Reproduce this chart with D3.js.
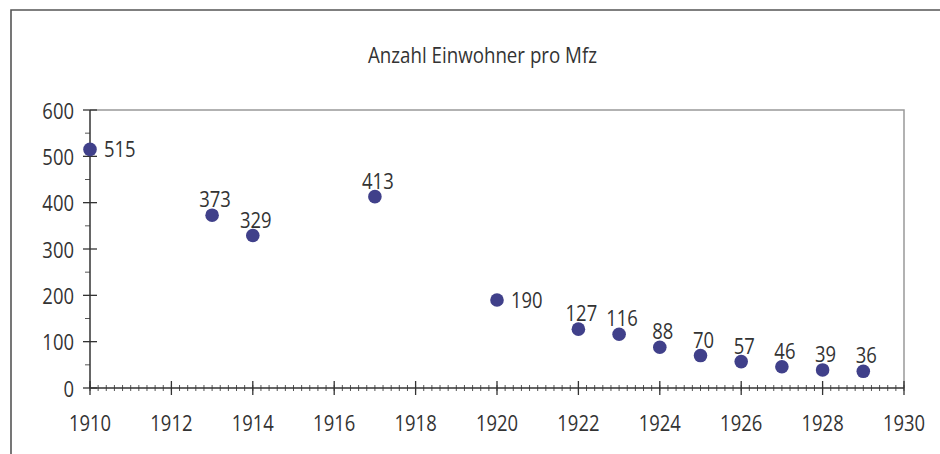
<!DOCTYPE html>
<html><head><meta charset="utf-8">
<script src="https://cdn.jsdelivr.net/npm/d3@7"></script>
<style>
html,body{margin:0;padding:0;background:#fff;}
svg{display:block;}
text{font-family:"Open Sans","DejaVu Sans",sans-serif;fill:#333;}
</style></head><body>
<svg id="c" width="940" height="454"></svg>
<script>
const title = "Anzahl Einwohner pro Mfz";
const years = [1910, 1913, 1914, 1917, 1920, 1922, 1923, 1924, 1925, 1926, 1927, 1928, 1929];
const values = [515, 373, 329, 413, 190, 127, 116, 88, 70, 57, 46, 39, 36];
const xTicks = [1910, 1912, 1914, 1916, 1918, 1920, 1922, 1924, 1926, 1928, 1930];
const yTicks = [0, 100, 200, 300, 400, 500, 600];
const rightLabels = [1910, 1920];

const svg = d3.select("#c");
const L = 90, R = 904, T = 110, B = 388;
const FS = 22.5, SX = 0.82;
const x = d3.scaleLinear().domain([1910, 1930]).range([L, R]);
const y = d3.scaleLinear().domain([0, 600]).range([B, T]);

function label(g, px, py, str, anchor) {
  g.append("text")
    .attr("transform", `translate(${px},${py}) scale(${SX},1)`)
    .attr("text-anchor", anchor)
    .attr("font-size", FS)
    .text(str);
}

// outer frame
svg.append("path").attr("d", `M11,454 V10 H940`).attr("fill","none").attr("stroke","#555").attr("stroke-width",1.6);

// plot area border top/right
svg.append("path").attr("d", `M${L},${T} H${R} V${B}`).attr("fill","none").attr("stroke","#999").attr("stroke-width",1.5);

// title
svg.append("text").attr("x", 368).attr("y", 63).attr("font-size",21)
  .attr("textLength", 229).attr("lengthAdjust","spacingAndGlyphs").text(title);

// x axis
const xMinor = d3.range(0, 101).map(i => 1910 + i*0.2);
const gx = svg.append("g");
gx.selectAll("line.mn").data(xMinor).join("line")
  .attr("x1", d=>x(d)).attr("x2", d=>x(d)).attr("y1", B-3).attr("y2", B+3)
  .attr("stroke","#555").attr("stroke-width",1);
gx.selectAll("line.mj").data(xTicks).join("line")
  .attr("x1", d=>x(d)).attr("x2", d=>x(d)).attr("y1", B-7).attr("y2", B+7)
  .attr("stroke","#333").attr("stroke-width",1.3);
svg.append("line").attr("x1",L).attr("x2",R).attr("y1",B).attr("y2",B).attr("stroke","#333").attr("stroke-width",1.5);
xTicks.forEach(t => label(gx, x(t), 431, t, "middle"));

// y axis
const yMinor = d3.range(50, 600, 100);
const gy = svg.append("g");
gy.selectAll("line.mn").data(yMinor).join("line")
  .attr("x1", L-5).attr("x2", L).attr("y1", d=>y(d)).attr("y2", d=>y(d))
  .attr("stroke","#555").attr("stroke-width",1);
gy.selectAll("line.mj").data(yTicks).join("line")
  .attr("x1", L-7).attr("x2", L+7).attr("y1", d=>y(d)).attr("y2", d=>y(d))
  .attr("stroke","#333").attr("stroke-width",1.3);
svg.append("line").attr("x1",L).attr("x2",L).attr("y1",T).attr("y2",B).attr("stroke","#333").attr("stroke-width",1.5);
yTicks.forEach(t => label(gy, 74, y(t)+8.5, t, "end"));

// points
const data = years.map((yr,i)=>({yr, v: values[i]}));
svg.append("g").selectAll("circle").data(data).join("circle")
  .attr("cx", d=>x(d.yr)).attr("cy", d=>y(d.v)).attr("r", 6.8)
  .attr("fill","#40408a");

// labels
const gl = svg.append("g");
data.forEach(d => {
  if (rightLabels.includes(d.yr)) label(gl, x(d.yr)+14, y(d.v)+8, d.v, "start");
  else label(gl, x(d.yr)+3, y(d.v)-8, d.v, "middle");
});
</script>
</body></html>
